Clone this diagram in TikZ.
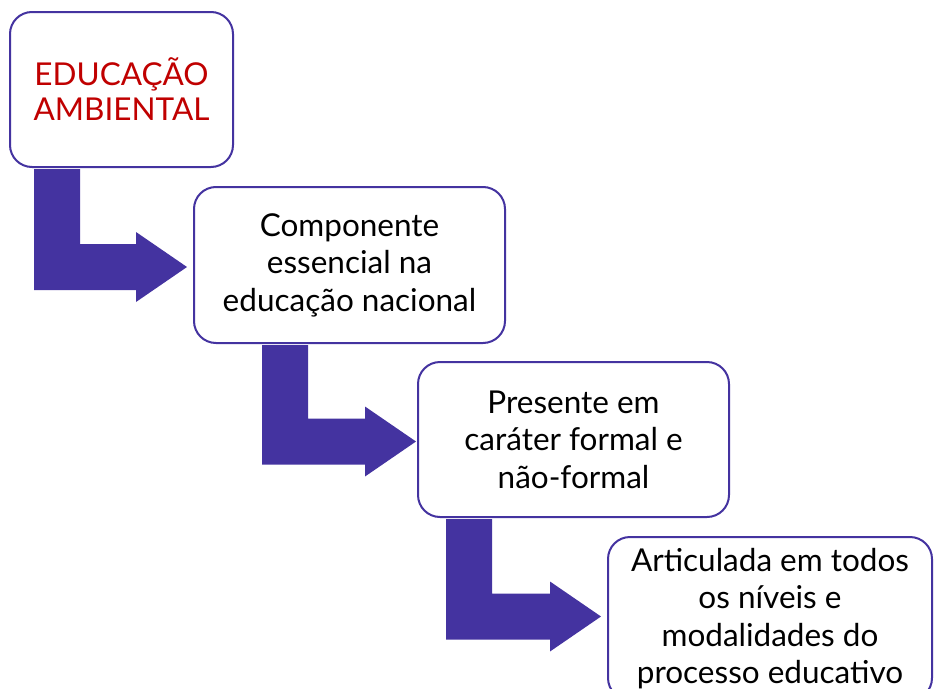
\documentclass[tikz,border=0pt]{standalone}
\usepackage{fontspec}
\setmainfont{Lato}
\usetikzlibrary{calc}
\definecolor{flowblue}{RGB}{68,51,160}
\definecolor{titlered}{RGB}{192,0,0}
\tikzset{
  box/.style={draw=flowblue, line width=2pt, rounded corners=22pt, fill=white,
    align=center, inner sep=0pt, font=\fontsize{31.5}{37.5}\selectfont},
  flow/.style={fill=flowblue},
}
\begin{document}
\begin{tikzpicture}[x=1pt,y=1pt]
\useasboundingbox (0,0) rectangle (934,-688);
\clip (0,0) rectangle (934,-688);
\node[box, minimum width=223pt, minimum height=155pt, text=titlered, font=\fontsize{31.5}{35}\selectfont] (b1) at (121.5,-89.5) {EDUCAÇÃO\\AMBIENTAL};
\node[box, minimum width=311pt, minimum height=156pt] (b2) at (349.5,-265) {Componente\\essencial na\\educação nacional};
\node[box, minimum width=311pt, minimum height=155pt] (b3) at (573.5,-439.5) {Presente em\\caráter formal e\\não-formal};
\node[box, minimum width=324pt, minimum height=163pt] (b4) at (770,-618.5) {Articulada em todos\\os níveis e\\modalidades do\\processo educativo};
% arrow anchors
\coordinate (a1s) at ($(b1.south west)+(25,-1)$);
\coordinate (a1t) at ($(b2.west)+(-6,-2)$);
\coordinate (a2s) at ($(b2.south west)+(69,-1)$);
\coordinate (a2t) at ($(b3.west)+(-1,-2)$);
\coordinate (a3s) at ($(b3.south west)+(29,-1)$);
\coordinate (a3t) at ($(b4.west)+(-6,2)$);
\foreach \s/\t in {a1s/a1t,a2s/a2t,a3s/a3t}{
  \fill[flow] let \p1=(\s), \p2=(\t) in
    (\x1,\y1) -- (\x1+46,\y1) -- (\x1+46,\y2+23) -- (\x2-51,\y2+23) -- (\x2-51,\y2+35)
    -- (\x2,\y2) -- (\x2-51,\y2-35) -- (\x2-51,\y2-23) -- (\x1,\y2-23) -- cycle;
}
\end{tikzpicture}
\end{document}
